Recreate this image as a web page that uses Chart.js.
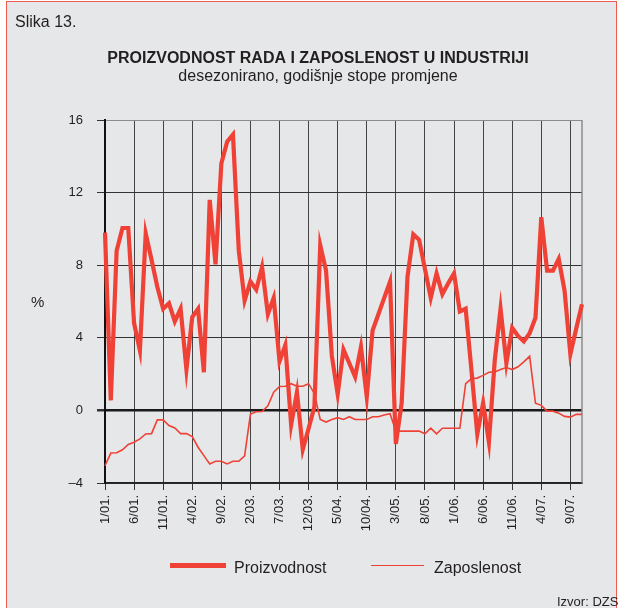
<!DOCTYPE html>
<html><head><meta charset="utf-8">
<script src="https://cdn.jsdelivr.net/npm/chart.js@4"></script>
<style>
html,body{margin:0;padding:0;background:#fff;}
#wrap{position:relative;width:621px;height:608px;overflow:hidden;background:#fff;font-family:"Liberation Sans",Arial,sans-serif;color:#231f20;}
#frame{position:absolute;left:6px;top:1px;width:609px;height:660px;border:1px solid #ef5b50;background:#e6e7e8;}
canvas{position:absolute;left:0;top:0;}
.t{position:absolute;white-space:nowrap;line-height:1;}
.sw{position:absolute;background:#ef4136;}
</style></head><body>
<div id="wrap">
<div id="frame"></div>
<canvas id="c" width="621" height="608"></canvas>
<div class="t" style="left:15px;top:14px;font-size:16px;">Slika 13.</div>
<div class="t" style="left:31px;top:294px;font-size:15px;">%</div>
<div class="sw" style="left:170px;top:563px;width:56px;height:4.5px;"></div>
<div class="t" style="left:234px;top:560px;font-size:16px;">Proizvodnost</div>
<div class="sw" style="left:371px;top:564.5px;width:53px;height:1.6px;"></div>
<div class="t" style="left:434px;top:560px;font-size:16px;">Zaposlenost</div>
<div class="t" style="left:557px;top:595px;font-size:13px;">Izvor: DZS</div>
</div>
<script>
const categories = [
 '1/01.','2/01.','3/01.','4/01.','5/01.','6/01.','7/01.','8/01.','9/01.','10/01.','11/01.','12/01.',
 '1/02.','2/02.','3/02.','4/02.','5/02.','6/02.','7/02.','8/02.','9/02.','10/02.','11/02.','12/02.',
 '1/03.','2/03.','3/03.','4/03.','5/03.','6/03.','7/03.','8/03.','9/03.','10/03.','11/03.','12/03.',
 '1/04.','2/04.','3/04.','4/04.','5/04.','6/04.','7/04.','8/04.','9/04.','10/04.','11/04.','12/04.',
 '1/05.','2/05.','3/05.','4/05.','5/05.','6/05.','7/05.','8/05.','9/05.','10/05.','11/05.','12/05.',
 '1/06.','2/06.','3/06.','4/06.','5/06.','6/06.','7/06.','8/06.','9/06.','10/06.','11/06.','12/06.',
 '1/07.','2/07.','3/07.','4/07.','5/07.','6/07.','7/07.','8/07.','9/07.','10/07.','11/07.'
];
const proizvodnost = [
 9.8, 0.55, 8.8, 10.05, 10.05, 4.8, 3.3, 9.75, 8.3, 6.8, 5.6, 5.9,
 4.9, 5.6, 2.25, 5.15, 5.6, 2.1, 11.6, 8.05, 13.6, 14.8, 15.2, 8.8,
 6.05, 7.1, 6.65, 7.9, 5.3, 6.2, 2.7, 3.6, -0.8, 1.0, -2.15, -1.0,
 0.2, 9.1, 7.7, 3.0, 0.9, 3.35, 2.6, 1.85, 3.5, 0.75, 4.4, 5.3,
 6.2, 7.1, -1.85, 0.4, 7.35, 9.7, 9.4, 7.8, 6.2, 7.55, 6.4, 7.0,
 7.55, 5.45, 5.6, 2.2, -1.3, 0.4, -1.75, 2.75, 5.6, 2.6, 4.55, 4.1,
 3.8, 4.25, 5.1, 10.65, 7.7, 7.7, 8.35, 6.6, 3.1, 4.5, 5.85
];
const zaposlenost = [
 -3.05, -2.35, -2.33, -2.17, -1.88, -1.75, -1.57, -1.3, -1.28, -0.52, -0.52, -0.83,
 -0.97, -1.28, -1.28, -1.44, -2.03, -2.49, -2.95, -2.8, -2.8, -2.95, -2.8, -2.8,
 -2.5, -0.2, -0.07, -0.06, 0.25, 1.0, 1.32, 1.33, 1.47, 1.33, 1.33, 1.47,
 0.92, -0.5, -0.64, -0.5, -0.4, -0.5, -0.35, -0.5, -0.5, -0.5, -0.35, -0.35,
 -0.25, -0.18, -1.14, -1.14, -1.14, -1.14, -1.14, -1.29, -0.98, -1.29, -0.98, -0.98,
 -0.98, -0.98, 1.47, 1.75, 1.78, 1.93, 2.1, 2.12, 2.25, 2.36, 2.25, 2.4,
 2.67, 2.98, 0.4, 0.28, -0.04, -0.04, -0.15, -0.33, -0.37, -0.22, -0.22
];
const yMin = -4, yMax = 16, yStep = 4;
const labelEvery = 5;

const FONT = '"Liberation Sans", Arial, sans-serif';
const RED = '#ef4136';
const TXT = '#231f20';

const rightBorder = {
  id: 'rightBorder',
  beforeDatasetsDraw(chart) {
    const {ctx, chartArea: a} = chart;
    ctx.save();
    ctx.strokeStyle = '#8c8c8c';
    ctx.lineWidth = 1.5;
    ctx.beginPath();
    ctx.moveTo(a.right, a.top);
    ctx.lineTo(a.right, a.bottom);
    ctx.stroke();
    ctx.restore();
  }
};

new Chart(document.getElementById('c'), {
  type: 'line',
  data: {
    labels: categories,
    datasets: [
      {label: 'Proizvodnost', data: proizvodnost, borderColor: RED, backgroundColor: RED, borderWidth: 4.2, pointRadius: 0, tension: 0, fill: false},
      {label: 'Zaposlenost', data: zaposlenost, borderColor: RED, backgroundColor: RED, borderWidth: 1.6, pointRadius: 0, tension: 0, fill: false}
    ]
  },
  options: {
    responsive: false,
    animation: false,
    devicePixelRatio: 1,
    layout: {padding: {left: 54, right: 39, top: 0, bottom: 65}},
    plugins: {
      legend: {display: false},
      tooltip: {enabled: false},
      title: {display: true, text: 'PROIZVODNOST RADA I ZAPOSLENOST U INDUSTRIJI', color: TXT,
        font: {family: FONT, size: 16, weight: 'bold', lineHeight: 1.1}, padding: {top: 50.2, bottom: 0}},
      subtitle: {display: true, text: 'desezonirano, godišnje stope promjene', color: TXT,
        font: {family: FONT, size: 16, weight: 'normal', lineHeight: 1.1}, padding: {top: 0.4, bottom: 34.2}}
    },
    scales: {
      x: {
        type: 'category',
        offset: false,
        grid: {
          color: c => (c.index % labelEvery === 0 ? '#444' : 'rgba(0,0,0,0)'),
          lineWidth: 1,
          tickLength: 7,
          tickColor: c => (c.index % labelEvery === 0 ? '#333' : 'rgba(0,0,0,0)')
        },
        border: {display: true, color: '#222', width: 1.5},
        ticks: {
          autoSkip: false, maxRotation: 90, minRotation: 90, padding: 5, color: TXT,
          font: {family: FONT, size: 13},
          callback: (v, i) => (i % labelEvery === 0 ? categories[i] : '')
        },
        afterFit: s => { s.height = 60; }
      },
      y: {
        min: yMin, max: yMax,
        ticks: {stepSize: yStep, padding: 14, color: TXT, font: {family: FONT, size: 13},
          callback: v => (v < 0 ? '\u2013' + Math.abs(v) : String(v))},
        grid: {
          color: c => (c.tick.value === yMax ? '#8c8c8c' : (c.tick.value === 0 ? '#1a1a1a' : '#333')),
          lineWidth: c => (c.tick.value === 0 ? 2.5 : 1),
          tickLength: 8,
          tickColor: '#333'
        },
        border: {display: true, color: '#111', width: 2},
        afterFit: s => { s.width = 51; }
      }
    }
  },
  plugins: [rightBorder]
});
</script>
</body></html>
